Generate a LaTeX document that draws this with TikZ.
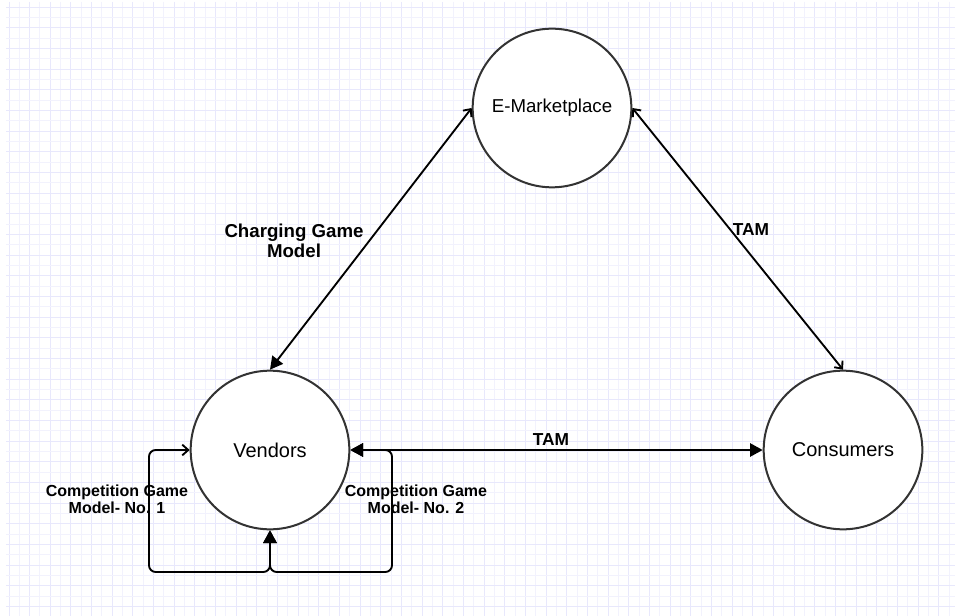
\documentclass[tikz,border=0pt]{standalone}
\usepackage{fontspec}
\setmainfont{Liberation Sans}
\usetikzlibrary{arrows.meta}
\definecolor{gridminor}{RGB}{242,242,253}
\definecolor{gridmajor}{RGB}{232,232,252}
\definecolor{rim}{RGB}{51,51,51}
\tikzset{
  party/.style={circle, draw=rim, line width=1.5pt, fill=white,
    minimum size=119pt, inner sep=0pt, font=\fontsize{15}{18}\selectfont},
  link/.style={line width=1.4pt, draw=black},
  solidtip/.tip={Triangle[length=9.5pt,width=10pt]},
  barbtip/.tip={Straight Barb[length=4.5pt,width=8pt]},
  lbl/.style={font=\bfseries\fontsize{13}{15}\selectfont, align=center, inner sep=0pt},
  smalllbl/.style={lbl, font=\bfseries\fontsize{12}{12.75}\selectfont},
  biglbl/.style={lbl, font=\bfseries\fontsize{14}{15}\selectfont},
}
\begin{document}
\begin{tikzpicture}[x=0.75pt,y=-0.75pt]
\useasboundingbox (0,0) rectangle (955,616);
\fill[white] (0,0) rectangle (955,616);

% background grid
\foreach \i in {0,...,92} {
  \pgfmathsetmacro{\gx}{9+10.333*\i}
  \pgfmathtruncatemacro{\odd}{mod(\i,2)}
  \ifnum\odd=0
    \draw[gridmajor, line width=0.75pt] (\gx,2) -- (\gx,616);
  \else
    \draw[gridminor, line width=0.75pt] (\gx,2) -- (\gx,616);
  \fi
}
\foreach \i in {0,...,59} {
  \pgfmathsetmacro{\gy}{7.3+10.333*\i}
  \pgfmathtruncatemacro{\odd}{mod(\i,2)}
  \ifnum\odd=0
    \draw[gridmajor, line width=0.75pt] (6,\gy) -- (955,\gy);
  \else
    \draw[gridminor, line width=0.75pt] (6,\gy) -- (955,\gy);
  \fi
}

% the three parties
\node[party, font=\fontsize{14}{17}\selectfont] (em) at (552,108) {E-Marketplace};
\node[party] (ven) at (270,450) {Vendors};
\node[party] (con) at (843,450) {Consumers};

% relations
\draw[link, barbtip-solidtip] (em.west) -- (ven.north);
\draw[link, barbtip-barbtip] (em.east) -- (con.north);
\draw[link, solidtip-solidtip] (ven.east) -- (con.west);

% competition loops among vendors
\draw[link, rounded corners=5pt, solidtip-barbtip] (ven.south) |- (149,572) |- (ven.west);
\draw[link, rounded corners=5pt, solidtip-solidtip] (ven.south) |- (392,572) |- (ven.east);

% labels
\node[biglbl] (charge) at (294,240.5) {Charging Game\\Model};
\node[lbl] (tamtop) at (751,230) {TAM};
\node[lbl] (tammid) at (551,440) {TAM};
\node[smalllbl] (compone) at (117,499.5) {Competition Game\\Model- No. 1};
\node[smalllbl] (comptwo) at (416,499.5) {Competition Game\\Model- No. 2};
\end{tikzpicture}
\end{document}
